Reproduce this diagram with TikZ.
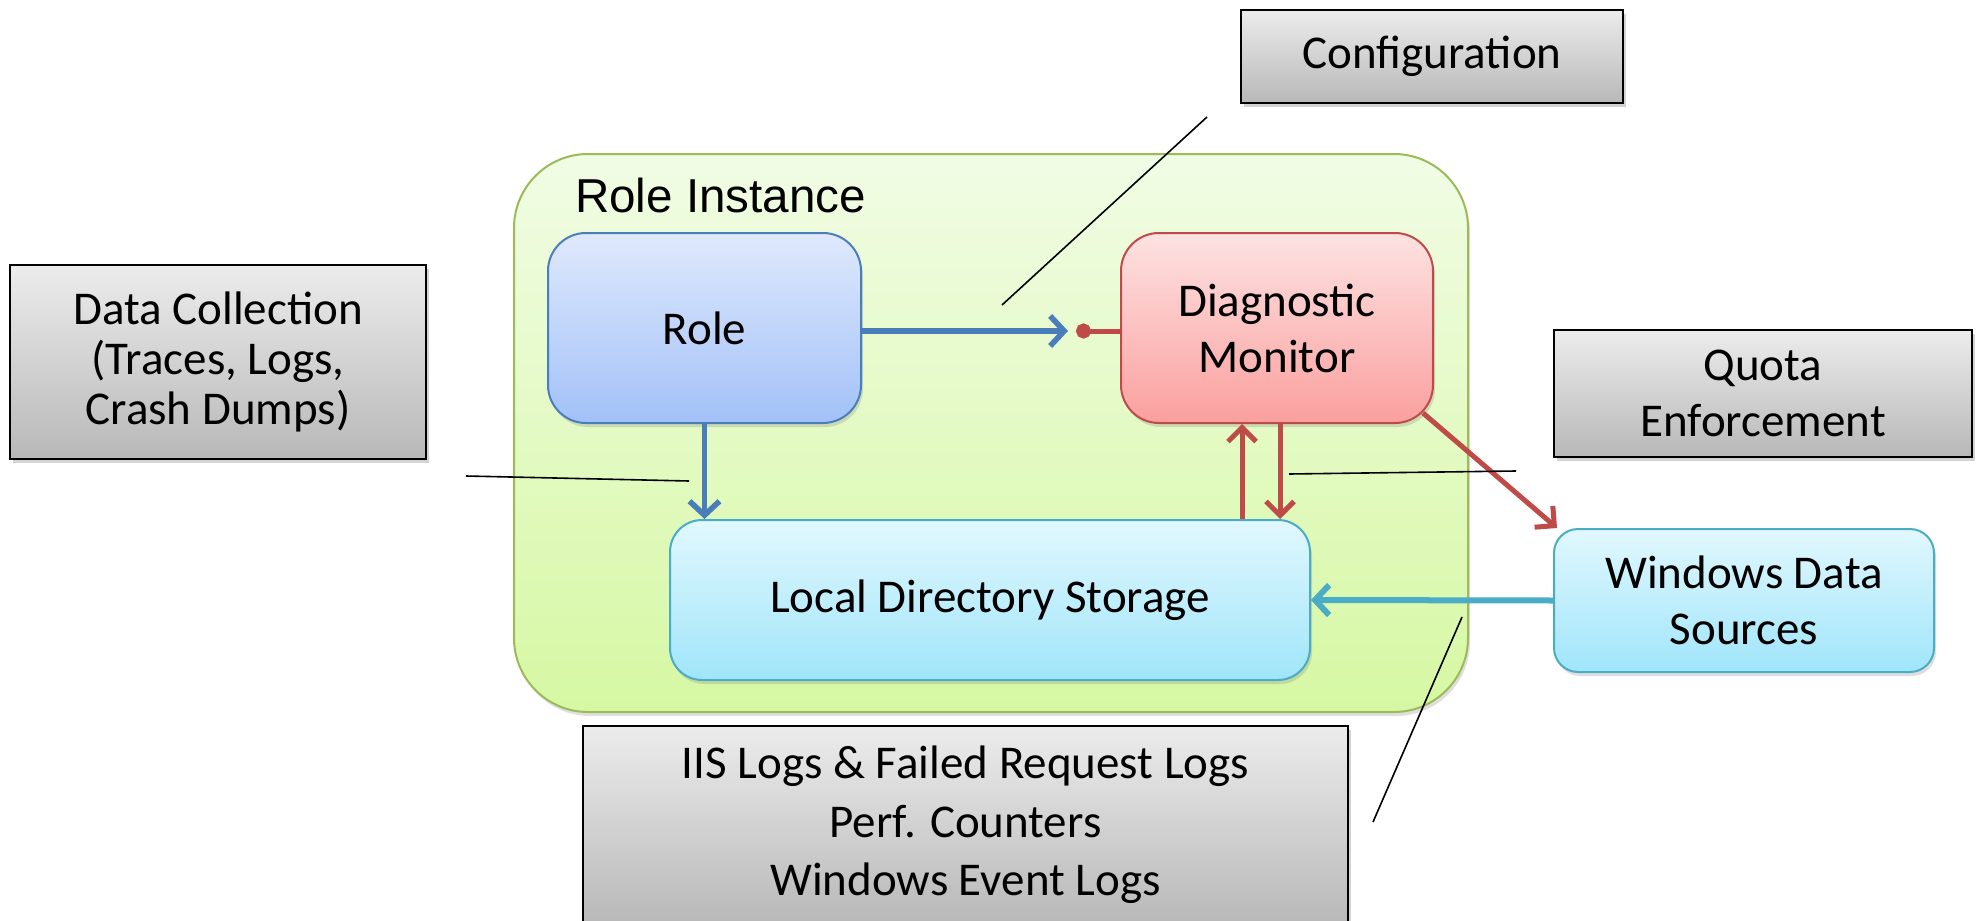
\documentclass[tikz,border=0pt]{standalone}
\usepackage{fontspec}
\setmainfont{Carlito}
\newfontfamily\labelfont{Liberation Sans}
\usetikzlibrary{arrows.meta,shadows}

\definecolor{instline}{RGB}{155,187,89}
\definecolor{instTop}{RGB}{241,252,229}
\definecolor{instBot}{RGB}{214,248,163}
\definecolor{roleline}{RGB}{74,126,187}
\definecolor{roleTop}{RGB}{223,233,252}
\definecolor{roleBot}{RGB}{162,193,248}
\definecolor{dmline}{RGB}{190,75,72}
\definecolor{dmTop}{RGB}{253,226,226}
\definecolor{dmBot}{RGB}{250,160,158}
\definecolor{ldsline}{RGB}{75,172,198}
\definecolor{ldsTop}{RGB}{225,248,254}
\definecolor{ldsBot}{RGB}{160,229,250}
\definecolor{noteTop}{RGB}{236,236,236}
\definecolor{noteBot}{RGB}{184,184,184}

\begin{document}
\begin{tikzpicture}[x=0.5pt,y=-0.5pt,
  every node/.style={font=\fontsize{23.5}{28}\selectfont},
  box/.style={rounded corners=#1,line width=1pt,align=center,inner sep=0pt,
    drop shadow={shadow xshift=1pt,shadow yshift=-2pt,opacity=0.25}},
  note/.style={draw=black,line width=1.1pt,top color=noteTop,bottom color=noteBot,
    align=center,inner sep=0pt,
    drop shadow={shadow xshift=1.5pt,shadow yshift=-2pt,opacity=0.35}},
  callout/.style={black,line width=0.8pt},
  bluearrow/.style={roleline,line width=2.8pt,-{Straight Barb[length=7pt,width=15pt]}},
  redarrow/.style={dmline,line width=2.5pt,-{Straight Barb[length=7pt,width=14pt]}}]
  \useasboundingbox (0,0) rectangle (1976,921);

  % role instance container
  \node[box=37pt,draw=instline,top color=instTop,bottom color=instBot,
    minimum width=477pt,minimum height=279pt] (inst) at (991,433) {};
  \node[anchor=base west,font=\labelfont\fontsize{23.8}{28}\selectfont]
    (instlabel) at (568,212) {Role Instance};

  % inner boxes
  \node[box=19pt,draw=roleline,top color=roleTop,bottom color=roleBot,
    minimum width=156.5pt,minimum height=95pt] (role) at (704.5,328) {Role};
  \node[box=19pt,draw=dmline,top color=dmTop,bottom color=dmBot,
    minimum width=156pt,minimum height=95pt] (dm) at (1277,328) {Diagnostic\\Monitor};
  \node[box=16pt,draw=ldsline,top color=ldsTop,bottom color=ldsBot,
    minimum width=320pt,minimum height=80pt] (lds) at (990,600) {Local Directory Storage};
  \node[box=12pt,draw=ldsline,top color=ldsTop,bottom color=ldsBot,
    minimum width=190pt,minimum height=71.5pt] (wds) at (1744,600.5) {Windows Data\\Sources};

  % notes
  \node[note,minimum width=191pt,minimum height=46.5pt] (config) at (1432,56.5) {Configuration};
  \node[note,minimum width=208pt,minimum height=97pt,
    font=\fontsize{23.5}{25.2}\selectfont] (datacol) at (218,362)
    {Data Collection\\(Traces, Logs,\\Crash Dumps)};
  \node[note,minimum width=209pt,minimum height=63.5pt] (quota) at (1763,393.5)
    {Quota\\Enforcement};
  \node[note,minimum width=382.5pt,minimum height=99pt,
    font=\fontsize{23.5}{29.3}\selectfont] (iis) at (965.5,825)
    {IIS Logs \& Failed Request Logs\\Perf. Counters\\Windows Event Logs};

  % connectors
  \coordinate (plug) at (1076,331);
  \coordinate (upTop) at ([xshift=-17.5pt]dm.south);
  \coordinate (dmCorner) at ([xshift=-5.5pt,yshift=5.5pt]dm.south east);
  \draw[bluearrow,shorten >=4pt] (role.east |- plug) -- (plug);
  \draw[dmline,line width=2.5pt,{Circle[length=7.5pt]}-] (plug) -- (dm.west |- plug);
  \draw[bluearrow] (role.south) -- (role.south |- lds.north);
  \draw[redarrow] (upTop |- lds.north) -- (upTop);
  \draw[redarrow] ([xshift=1.5pt]dm.south) -- ([xshift=1.5pt]dm.south |- lds.north);
  \draw[redarrow] (dmCorner) -- ([xshift=2pt]wds.north west);
  \draw[ldsline,line width=3pt,-{Straight Barb[length=7pt,width=15pt]}] (wds.west) -- (lds.east);

  % callout lines
  \coordinate (cfgA) at (1207,117);
  \coordinate (cfgB) at (1002,305);
  \coordinate (colA) at (466,476);
  \coordinate (colB) at (689,481);
  \coordinate (quoA) at (1289,474);
  \coordinate (quoB) at (1516,471);
  \coordinate (iisA) at (1462,617);
  \coordinate (iisB) at (1373,822);
  \draw[callout] (cfgA) -- (cfgB);
  \draw[callout] (colA) -- (colB);
  \draw[callout] (quoA) -- (quoB);
  \draw[callout] (iisA) -- (iisB);
\end{tikzpicture}
\end{document}
